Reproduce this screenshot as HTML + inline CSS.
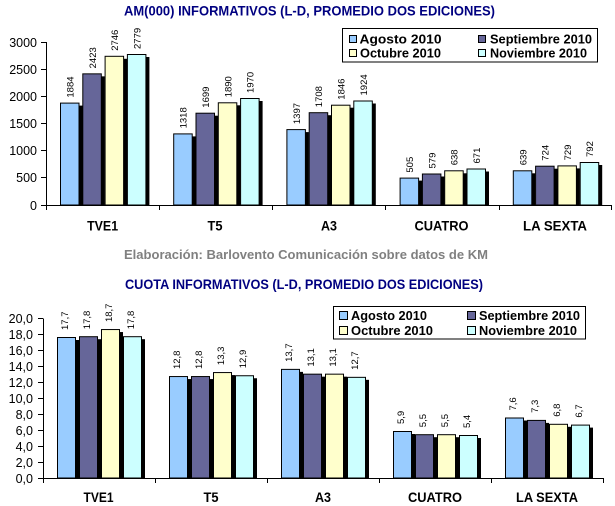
<!DOCTYPE html>
<html><head><meta charset="utf-8"><style>
html,body{margin:0;padding:0;background:#fff}
svg{display:block}
text{font-family:"Liberation Sans",Arial,sans-serif}
.s{fill:#000}
.a{fill:#99CCFF;stroke:#000;stroke-width:1}
.b{fill:#666699;stroke:#000;stroke-width:1}
.c{fill:#FFFFCC;stroke:#000;stroke-width:1}
.d{fill:#CCFFFF;stroke:#000;stroke-width:1}
.l{font-size:9.5px;fill:#000}
.t{font-size:12.5px;fill:#000;text-anchor:end}
.cat{font-size:14px;font-weight:bold;fill:#000;text-anchor:middle}
.lg{font-size:13px;font-weight:bold;fill:#000}
.ti{font-size:14px;font-weight:bold;fill:#000080}
.ax{stroke:#000;stroke-width:1;fill:none}
</style></head><body>
<svg width="615" height="506" viewBox="0 0 615 506" xmlns="http://www.w3.org/2000/svg">
<rect width="615" height="506" fill="#fff"/>

<!-- TOP CHART -->
<text class="ti" x="124" y="15.5" textLength="371" lengthAdjust="spacingAndGlyphs">AM(000) INFORMATIVOS (L-D, PROMEDIO DOS EDICIONES)</text>

<rect class="s" x="63" y="105.6" width="19.5" height="99.4"/>
<rect class="s" x="85.3" y="76.35" width="19.5" height="128.65"/>
<rect class="s" x="107.6" y="58.8" width="19.5" height="146.2"/>
<rect class="s" x="129.9" y="57" width="19.5" height="148"/>
<rect class="s" x="176.2" y="136.4" width="19.5" height="68.6"/>
<rect class="s" x="198.5" y="115.7" width="19.5" height="89.3"/>
<rect class="s" x="220.8" y="105.3" width="19.5" height="99.7"/>
<rect class="s" x="243.1" y="101" width="19.5" height="104"/>
<rect class="s" x="289.4" y="132.1" width="19.5" height="72.9"/>
<rect class="s" x="311.7" y="115.2" width="19.5" height="89.8"/>
<rect class="s" x="334" y="107.7" width="19.5" height="97.3"/>
<rect class="s" x="356.3" y="103.5" width="19.5" height="101.5"/>
<rect class="s" x="402.6" y="180.6" width="19.5" height="24.4"/>
<rect class="s" x="424.9" y="176.5" width="19.5" height="28.5"/>
<rect class="s" x="447.2" y="173.3" width="19.5" height="31.7"/>
<rect class="s" x="469.5" y="171.5" width="19.5" height="33.5"/>
<rect class="s" x="515.8" y="173.3" width="19.5" height="31.7"/>
<rect class="s" x="538.1" y="168.7" width="19.5" height="36.3"/>
<rect class="s" x="560.4" y="168.4" width="19.5" height="36.6"/>
<rect class="s" x="582.7" y="165" width="19.5" height="40"/>

<rect class="a" x="60.5" y="103.1" width="18.5" height="101.9"/>
<rect class="b" x="82.8" y="73.85" width="18.5" height="131.15"/>
<rect class="c" x="105.1" y="56.3" width="18.5" height="148.7"/>
<rect class="d" x="127.4" y="54.5" width="18.5" height="150.5"/>
<rect class="a" x="173.7" y="133.9" width="18.5" height="71.1"/>
<rect class="b" x="196" y="113.2" width="18.5" height="91.8"/>
<rect class="c" x="218.3" y="102.8" width="18.5" height="102.2"/>
<rect class="d" x="240.6" y="98.5" width="18.5" height="106.5"/>
<rect class="a" x="286.9" y="129.6" width="18.5" height="75.4"/>
<rect class="b" x="309.2" y="112.7" width="18.5" height="92.3"/>
<rect class="c" x="331.5" y="105.2" width="18.5" height="99.8"/>
<rect class="d" x="353.8" y="101" width="18.5" height="104"/>
<rect class="a" x="400.1" y="178.1" width="18.5" height="26.9"/>
<rect class="b" x="422.4" y="174" width="18.5" height="31"/>
<rect class="c" x="444.7" y="170.8" width="18.5" height="34.2"/>
<rect class="d" x="467" y="169" width="18.5" height="36"/>
<rect class="a" x="513.3" y="170.8" width="18.5" height="34.2"/>
<rect class="b" x="535.6" y="166.2" width="18.5" height="38.8"/>
<rect class="c" x="557.9" y="165.9" width="18.5" height="39.1"/>
<rect class="d" x="580.2" y="162.5" width="18.5" height="42.5"/>

<text class="l" transform="translate(73.5,97.6) rotate(-90)">1884</text>
<text class="l" transform="translate(95.8,68.35) rotate(-90)">2423</text>
<text class="l" transform="translate(118.1,50.8) rotate(-90)">2746</text>
<text class="l" transform="translate(140.4,49) rotate(-90)">2779</text>
<text class="l" transform="translate(186.7,128.4) rotate(-90)">1318</text>
<text class="l" transform="translate(209,107.7) rotate(-90)">1699</text>
<text class="l" transform="translate(231.3,97.3) rotate(-90)">1890</text>
<text class="l" transform="translate(253.6,93) rotate(-90)">1970</text>
<text class="l" transform="translate(299.9,124.1) rotate(-90)">1397</text>
<text class="l" transform="translate(322.2,107.2) rotate(-90)">1708</text>
<text class="l" transform="translate(344.5,99.7) rotate(-90)">1846</text>
<text class="l" transform="translate(366.8,95.5) rotate(-90)">1924</text>
<text class="l" transform="translate(413.1,172.6) rotate(-90)">505</text>
<text class="l" transform="translate(435.4,168.5) rotate(-90)">579</text>
<text class="l" transform="translate(457.7,165.3) rotate(-90)">638</text>
<text class="l" transform="translate(480,163.5) rotate(-90)">671</text>
<text class="l" transform="translate(526.3,165.3) rotate(-90)">639</text>
<text class="l" transform="translate(548.6,160.7) rotate(-90)">724</text>
<text class="l" transform="translate(570.9,160.4) rotate(-90)">729</text>
<text class="l" transform="translate(593.2,157) rotate(-90)">792</text>

<path class="ax" d="M46.5,42 V205.5 M46,205.5 H612 M41,42.5 H46 M41,69.5 H46 M41,96.5 H46 M41,123.5 H46 M41,150.5 H46 M41,177.5 H46 M41,205.5 H46 M46.5,205 V210 M159.5,205 V210 M272.5,205 V210 M385.5,205 V210 M499.5,205 V210 M611.5,205 V210"/>
<text class="t" x="37" y="47">3000</text>
<text class="t" x="37" y="74">2500</text>
<text class="t" x="37" y="101">2000</text>
<text class="t" x="37" y="128">1500</text>
<text class="t" x="37" y="155">1000</text>
<text class="t" x="37" y="182">500</text>
<text class="t" x="37" y="210">0</text>
<text class="cat" x="102.6" y="230.5" textLength="31" lengthAdjust="spacingAndGlyphs">TVE1</text>
<text class="cat" x="215" y="230.5" textLength="15" lengthAdjust="spacingAndGlyphs">T5</text>
<text class="cat" x="329" y="230.5" textLength="16" lengthAdjust="spacingAndGlyphs">A3</text>
<text class="cat" x="441.5" y="230.5" textLength="54" lengthAdjust="spacingAndGlyphs">CUATRO</text>
<text class="cat" x="555" y="230.5" textLength="64" lengthAdjust="spacingAndGlyphs">LA SEXTA</text>

<rect x="342.5" y="28.5" width="255" height="33.5" fill="#fff" stroke="#000" stroke-width="1"/>
<rect class="a" x="349.5" y="35.5" width="7" height="7"/>
<rect class="c" x="349.5" y="49.5" width="7" height="7"/>
<rect class="b" x="478.5" y="35.5" width="7" height="7"/>
<rect class="d" x="478.5" y="49.5" width="7" height="7"/>
<text class="lg" x="359.5" y="43.5" textLength="82" lengthAdjust="spacingAndGlyphs">Agosto 2010</text>
<text class="lg" x="360" y="57.5" textLength="81" lengthAdjust="spacingAndGlyphs">Octubre 2010</text>
<text class="lg" x="490" y="43.5" textLength="102" lengthAdjust="spacingAndGlyphs">Septiembre 2010</text>
<text class="lg" x="490" y="57.5" textLength="97" lengthAdjust="spacingAndGlyphs">Noviembre 2010</text>

<text x="124" y="259" font-size="13" font-weight="bold" fill="#808080" textLength="364" lengthAdjust="spacingAndGlyphs">Elaboración: Barlovento Comunicación sobre datos de KM</text>

<!-- BOTTOM CHART -->
<text class="ti" x="125" y="289" textLength="358" lengthAdjust="spacingAndGlyphs">CUOTA INFORMATIVOS (L-D, PROMEDIO DOS EDICIONES)</text>

<rect class="s" x="60" y="340" width="19" height="138"/>
<rect class="s" x="82" y="339.2" width="19" height="138.8"/>
<rect class="s" x="104" y="332.05" width="19" height="145.95"/>
<rect class="s" x="126" y="339.2" width="19" height="138.8"/>
<rect class="s" x="172" y="379.05" width="19" height="98.95"/>
<rect class="s" x="194" y="379.05" width="19" height="98.95"/>
<rect class="s" x="216" y="375.07" width="19" height="102.93"/>
<rect class="s" x="238" y="378.25" width="19" height="99.75"/>
<rect class="s" x="284" y="371.88" width="19" height="106.12"/>
<rect class="s" x="306" y="376.66" width="19" height="101.34"/>
<rect class="s" x="328" y="376.66" width="19" height="101.34"/>
<rect class="s" x="350" y="379.84" width="19" height="98.16"/>
<rect class="s" x="396" y="434" width="19" height="44"/>
<rect class="s" x="418" y="437.2" width="19" height="40.8"/>
<rect class="s" x="440" y="437.2" width="19" height="40.8"/>
<rect class="s" x="462" y="438" width="19" height="40"/>
<rect class="s" x="508" y="420.5" width="19" height="57.5"/>
<rect class="s" x="530" y="422.9" width="19" height="55.1"/>
<rect class="s" x="552" y="426.8" width="19" height="51.2"/>
<rect class="s" x="574" y="427.6" width="19" height="50.4"/>

<rect class="a" x="57.5" y="337.5" width="18" height="140.5"/>
<rect class="b" x="79.5" y="336.7" width="18" height="141.3"/>
<rect class="c" x="101.5" y="329.55" width="18" height="148.45"/>
<rect class="d" x="123.5" y="336.7" width="18" height="141.3"/>
<rect class="a" x="169.5" y="376.55" width="18" height="101.45"/>
<rect class="b" x="191.5" y="376.55" width="18" height="101.45"/>
<rect class="c" x="213.5" y="372.57" width="18" height="105.43"/>
<rect class="d" x="235.5" y="375.75" width="18" height="102.25"/>
<rect class="a" x="281.5" y="369.38" width="18" height="108.62"/>
<rect class="b" x="303.5" y="374.16" width="18" height="103.84"/>
<rect class="c" x="325.5" y="374.16" width="18" height="103.84"/>
<rect class="d" x="347.5" y="377.34" width="18" height="100.66"/>
<rect class="a" x="393.5" y="431.5" width="18" height="46.5"/>
<rect class="b" x="415.5" y="434.7" width="18" height="43.3"/>
<rect class="c" x="437.5" y="434.7" width="18" height="43.3"/>
<rect class="d" x="459.5" y="435.5" width="18" height="42.5"/>
<rect class="a" x="505.5" y="418" width="18" height="60"/>
<rect class="b" x="527.5" y="420.4" width="18" height="57.6"/>
<rect class="c" x="549.5" y="424.3" width="18" height="53.7"/>
<rect class="d" x="571.5" y="425.1" width="18" height="52.9"/>

<g transform="translate(0,-2)">
<text class="l" transform="translate(68,332) rotate(-90)">17,7</text>
<text class="l" transform="translate(90,331.2) rotate(-90)">17,8</text>
<text class="l" transform="translate(112,324.05) rotate(-90)">18,7</text>
<text class="l" transform="translate(134,331.2) rotate(-90)">17,8</text>
<text class="l" transform="translate(180,371.05) rotate(-90)">12,8</text>
<text class="l" transform="translate(202,371.05) rotate(-90)">12,8</text>
<text class="l" transform="translate(224,367.07) rotate(-90)">13,3</text>
<text class="l" transform="translate(246,370.25) rotate(-90)">12,9</text>
<text class="l" transform="translate(292,363.88) rotate(-90)">13,7</text>
<text class="l" transform="translate(314,368.66) rotate(-90)">13,1</text>
<text class="l" transform="translate(336,368.66) rotate(-90)">13,1</text>
<text class="l" transform="translate(358,371.84) rotate(-90)">12,7</text>
<text class="l" transform="translate(404,426) rotate(-90)">5,9</text>
<text class="l" transform="translate(426,429.2) rotate(-90)">5,5</text>
<text class="l" transform="translate(448,429.2) rotate(-90)">5,5</text>
<text class="l" transform="translate(470,430) rotate(-90)">5,4</text>
<text class="l" transform="translate(516,412.5) rotate(-90)">7,6</text>
<text class="l" transform="translate(538,414.9) rotate(-90)">7,3</text>
<text class="l" transform="translate(560,418.8) rotate(-90)">6,8</text>
<text class="l" transform="translate(582,419.6) rotate(-90)">6,7</text>
</g>

<path class="ax" d="M43.5,318.5 V478.5 M43,478.5 H603 M38,318.5 H43 M38,334.5 H43 M38,350.5 H43 M38,366.5 H43 M38,382.5 H43 M38,398.5 H43 M38,414.5 H43 M38,430.5 H43 M38,446.5 H43 M38,462.5 H43 M38,478.5 H43 M43.5,478 V483 M155.5,478 V483 M267.5,478 V483 M379.5,478 V483 M491.5,478 V483 M603.5,478 V483"/>
<text class="t" x="33" y="323">20,0</text>
<text class="t" x="33" y="339">18,0</text>
<text class="t" x="33" y="355">16,0</text>
<text class="t" x="33" y="371">14,0</text>
<text class="t" x="33" y="387">12,0</text>
<text class="t" x="33" y="403">10,0</text>
<text class="t" x="33" y="419">8,0</text>
<text class="t" x="33" y="435">6,0</text>
<text class="t" x="33" y="451">4,0</text>
<text class="t" x="33" y="467">2,0</text>
<text class="t" x="33" y="483">0,0</text>
<text class="cat" x="98.5" y="502" textLength="30" lengthAdjust="spacingAndGlyphs">TVE1</text>
<text class="cat" x="211" y="502" textLength="15" lengthAdjust="spacingAndGlyphs">T5</text>
<text class="cat" x="323" y="502" textLength="16" lengthAdjust="spacingAndGlyphs">A3</text>
<text class="cat" x="435" y="502" textLength="54" lengthAdjust="spacingAndGlyphs">CUATRO</text>
<text class="cat" x="547" y="502" textLength="62" lengthAdjust="spacingAndGlyphs">LA SEXTA</text>

<rect x="333.5" y="306.5" width="252" height="32.5" fill="#fff" stroke="#000" stroke-width="1"/>
<rect class="a" x="339.5" y="311.5" width="8" height="8"/>
<rect class="c" x="339.5" y="326.5" width="8" height="8"/>
<rect class="b" x="467.5" y="311.5" width="8" height="8"/>
<rect class="d" x="467.5" y="326.5" width="8" height="8"/>
<text class="lg" x="351" y="320" textLength="76" lengthAdjust="spacingAndGlyphs">Agosto 2010</text>
<text class="lg" x="351" y="335" textLength="82" lengthAdjust="spacingAndGlyphs">Octubre 2010</text>
<text class="lg" x="479" y="320" textLength="101" lengthAdjust="spacingAndGlyphs">Septiembre 2010</text>
<text class="lg" x="479" y="335" textLength="98" lengthAdjust="spacingAndGlyphs">Noviembre 2010</text>
</svg>
</body></html>
